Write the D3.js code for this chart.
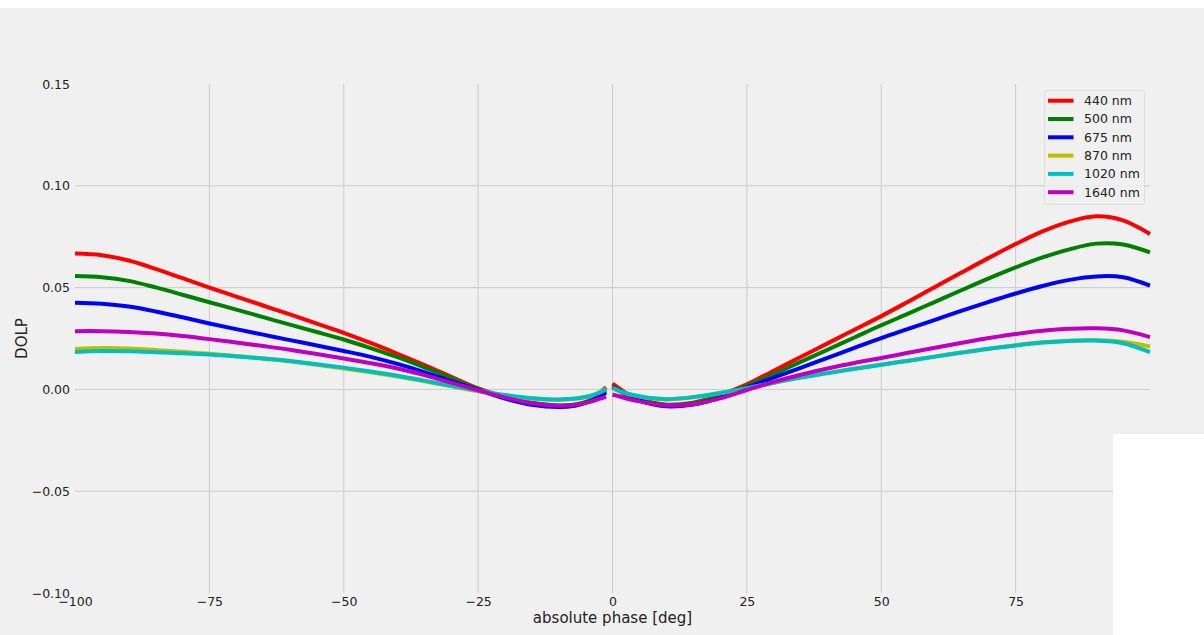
<!DOCTYPE html>
<html>
<head>
<meta charset="utf-8">
<script src="https://cdn.jsdelivr.net/npm/d3@7"></script>
<style>
  html, body { margin: 0; padding: 0; background: #ffffff; }
  svg { display: block; }
  text { font-family: "DejaVu Sans", sans-serif; fill: #222; }
</style>
</head>
<body>
<svg id="chart" width="1204" height="635"></svg>
<script>
// ---- data ----
const seriesNames = ["440 nm", "500 nm", "675 nm", "870 nm", "1020 nm", "1640 nm"];
const seriesColors = ["#ff0000", "#008000", "#0000ff", "#bfbf00", "#00bfbf", "#bf00bf"];

const xLeft = [-100, -95, -90, -85, -80, -75, -70, -65, -60, -55, -50, -45, -40, -35, -30, -25, -20, -15, -10, -7, -4, -2.5, -1.2];
const xRight = [0, 1.5, 3, 5, 7, 10, 15, 20, 25, 30, 35, 40, 45, 50, 55, 60, 65, 70, 75, 80, 85, 90, 95, 100];

const left440  = [0.0667, 0.0659, 0.0633, 0.0592, 0.0546, 0.0500, 0.0456, 0.0412, 0.0368, 0.0323, 0.0278, 0.0228, 0.0175, 0.0120, 0.0062, 0.0005, -0.0037, -0.0068, -0.0082, -0.0077, -0.0052, -0.0020, 0.0010];
const left500  = [0.0557, 0.0551, 0.0533, 0.0501, 0.0465, 0.0428, 0.0392, 0.0355, 0.0318, 0.0282, 0.0245, 0.0203, 0.0158, 0.0108, 0.0055, 0.0003, -0.0037, -0.0066, -0.0079, -0.0074, -0.0052, -0.0028, -0.0005];
const left675  = [0.0426, 0.0421, 0.0407, 0.0383, 0.0354, 0.0324, 0.0296, 0.0269, 0.0242, 0.0216, 0.0189, 0.0160, 0.0125, 0.0085, 0.0040, -0.0002, -0.0045, -0.0076, -0.0087, -0.0080, -0.0057, -0.0037, -0.0015];
const left870  = [0.0199, 0.0203, 0.0201, 0.0194, 0.0185, 0.0175, 0.0164, 0.0152, 0.0138, 0.0121, 0.0103, 0.0084, 0.0063, 0.0040, 0.0015, -0.0009, -0.0030, -0.0045, -0.0051, -0.0046, -0.0031, -0.0015, 0.0003];
const left1020 = [0.0184, 0.0188, 0.0187, 0.0183, 0.0178, 0.0171, 0.0162, 0.0152, 0.0140, 0.0124, 0.0107, 0.0088, 0.0067, 0.0043, 0.0018, -0.0006, -0.0028, -0.0043, -0.0049, -0.0045, -0.0031, -0.0016, 0.0000];
const left1640 = [0.0286, 0.0286, 0.0282, 0.0274, 0.0262, 0.0247, 0.0230, 0.0213, 0.0195, 0.0174, 0.0152, 0.0129, 0.0103, 0.0070, 0.0033, -0.0004, -0.0040, -0.0068, -0.0080, -0.0076, -0.0060, -0.0047, -0.0035];

const right440  = [0.0028, 0.0000, -0.0025, -0.0045, -0.0062, -0.0075, -0.0065, -0.0028, 0.0025, 0.0092, 0.0159, 0.0226, 0.0293, 0.0360, 0.0431, 0.0503, 0.0575, 0.0646, 0.0714, 0.0776, 0.0824, 0.0850, 0.0830, 0.0763];
const right500  = [0.0015, -0.0008, -0.0028, -0.0048, -0.0064, -0.0077, -0.0068, -0.0032, 0.0018, 0.0075, 0.0135, 0.0195, 0.0255, 0.0315, 0.0372, 0.0430, 0.0488, 0.0545, 0.0599, 0.0648, 0.0688, 0.0716, 0.0712, 0.0673];
const right675  = [0.0012, -0.0012, -0.0033, -0.0054, -0.0070, -0.0083, -0.0074, -0.0040, 0.0010, 0.0058, 0.0106, 0.0155, 0.0204, 0.0252, 0.0297, 0.0342, 0.0387, 0.0430, 0.0471, 0.0508, 0.0538, 0.0555, 0.0551, 0.0510];
const right870  = [0.0005, -0.0012, -0.0024, -0.0035, -0.0043, -0.0049, -0.0039, -0.0019, 0.0005, 0.0033, 0.0058, 0.0080, 0.0101, 0.0121, 0.0141, 0.0161, 0.0181, 0.0200, 0.0217, 0.0231, 0.0239, 0.0242, 0.0234, 0.0211];
const right1020 = [0.0008, -0.0010, -0.0022, -0.0034, -0.0042, -0.0048, -0.0038, -0.0018, 0.0006, 0.0033, 0.0058, 0.0080, 0.0101, 0.0121, 0.0141, 0.0161, 0.0181, 0.0200, 0.0216, 0.0230, 0.0238, 0.0240, 0.0227, 0.0183];
const right1640 = [-0.0025, -0.0036, -0.0047, -0.0059, -0.0069, -0.0079, -0.0073, -0.0044, -0.0003, 0.0037, 0.0072, 0.0103, 0.0130, 0.0154, 0.0180, 0.0205, 0.0229, 0.0252, 0.0272, 0.0288, 0.0298, 0.0300, 0.0290, 0.0257];

const leftValues = [left440, left500, left675, left870, left1020, left1640];
const rightValues = [right440, right500, right675, right870, right1020, right1640];

const xTicks = [-100, -75, -50, -25, 0, 25, 50, 75];
const yTicks = [-0.10, -0.05, 0.00, 0.05, 0.10, 0.15];
const xGrid = [-75, -50, -25, 0, 25, 50, 75];
const yGrid = [-0.05, 0.00, 0.05, 0.10];
const xLabel = "absolute phase [deg]";
const yLabel = "DOLP";

// ---- drawing ----
const svg = d3.select("#chart");
const W = 1204, H = 635;

// figure background
svg.append("rect").attr("x", 0).attr("y", 8).attr("width", W).attr("height", H - 8).attr("fill", "#f0f0f0");

const x = d3.scaleLinear().domain([-100, 100]).range([75, 1150]);
const y = d3.scaleLinear().domain([-0.10, 0.15]).range([593, 84]);

// grid
const grid = svg.append("g");
grid.selectAll("line.v").data(xGrid).join("line")
  .attr("x1", d => x(d)).attr("x2", d => x(d))
  .attr("y1", y(0.15)).attr("y2", y(-0.10))
  .attr("stroke", "#cbcbcb").attr("stroke-width", 1);
grid.selectAll("line.h").data(yGrid).join("line")
  .attr("x1", x(-100)).attr("x2", x(100))
  .attr("y1", d => y(d)).attr("y2", d => y(d))
  .attr("stroke", "#cbcbcb").attr("stroke-width", 1);

// axes
const xAxis = svg.append("g").attr("transform", `translate(0,${y(-0.10)})`)
  .call(d3.axisBottom(x).tickValues(xTicks).tickSize(0).tickPadding(4).tickFormat(d3.format("d")));
const yAxis = svg.append("g").attr("transform", `translate(${x(-100)},0)`)
  .call(d3.axisLeft(y).tickValues(yTicks).tickSize(0).tickPadding(5).tickFormat(d3.format(".2f")));
[xAxis, yAxis].forEach(a => {
  a.select(".domain").remove();
  a.selectAll("text").attr("font-family", "DejaVu Sans").attr("font-size", 12.5).attr("fill", "#222");
});

svg.append("text").attr("x", (x(-100) + x(100)) / 2).attr("y", 623)
  .attr("text-anchor", "middle").attr("font-size", 15).text(xLabel);
svg.append("text").attr("transform", `translate(27,${(y(0.15) + y(-0.10)) / 2}) rotate(-90)`)
  .attr("text-anchor", "middle").attr("font-size", 15).text(yLabel);

// lines
const line = d3.line().x(d => x(d[0])).y(d => y(d[1])).curve(d3.curveCatmullRom.alpha(0.5));
const linesG = svg.append("g");
seriesNames.forEach((name, i) => {
  const l = xLeft.map((xv, j) => [xv, leftValues[i][j]]);
  const r = xRight.map((xv, j) => [xv, rightValues[i][j]]);
  [l, r].forEach(seg => {
    linesG.append("path").datum(seg).attr("d", line)
      .attr("fill", "none").attr("stroke", seriesColors[i])
      .attr("stroke-width", 4).attr("stroke-linejoin", "round").attr("stroke-linecap", "butt");
  });
});

// legend
const lg = svg.append("g").attr("transform", "translate(1044.5,90.5)");
lg.append("rect").attr("width", 100).attr("height", 114).attr("rx", 2)
  .attr("fill", "#f0f0f0").attr("fill-opacity", 0.8).attr("stroke", "#dddddd").attr("stroke-width", 1);
const rows = lg.selectAll("g.row").data(seriesNames).join("g")
  .attr("transform", (d, i) => `translate(0,${10.2 + i * 18.3})`);
rows.append("line").attr("x1", 3.5).attr("x2", 29).attr("y1", 0).attr("y2", 0)
  .attr("stroke", (d, i) => seriesColors[i]).attr("stroke-width", 4);
rows.append("text").attr("x", 39.5).attr("y", 0).attr("dy", "0.35em")
  .attr("font-size", 12.5).text(d => d);

// white patch at the bottom right, as in the reference
svg.append("rect").attr("x", 1113).attr("y", 434).attr("width", W - 1113).attr("height", H - 434).attr("fill", "#ffffff");
</script>
</body>
</html>
